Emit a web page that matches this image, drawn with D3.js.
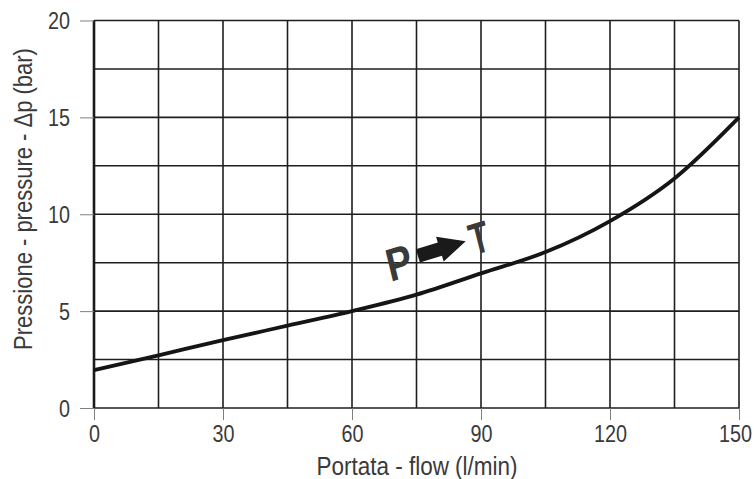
<!DOCTYPE html>
<html lang="it">
<head>
    <meta charset="UTF-8">
    <title>Pressione - portata</title>
    <script src="https://d3js.org/d3.v7.min.js"></script>
    <style>
        body { margin: 0; background: #fff; }
        text { font-family: "Liberation Sans", Arial, sans-serif; fill: #3a3a3a; }
        .grid line { stroke: #1e1e1e; stroke-width: 1.6px; }
        .tick line { stroke: #808080; }
    </style>
</head>
<body>
<script>
    // Data
    const flow = [0, 15, 30, 45, 60, 75, 90, 105, 120, 135, 150];
    const pressure = [1.95, 2.72, 3.5, 4.25, 5.0, 5.85, 6.95, 8.05, 9.65, 11.85, 15.0];
    const xTicks = [0, 30, 60, 90, 120, 150];
    const yTicks = [0, 5, 10, 15, 20];
    const xGrid = d3.range(0, 151, 15);
    const yGrid = d3.range(0, 20.1, 2.5);

    const width = 754, height = 479;
    const margin = {top: 20.5, right: 15, bottom: 71, left: 94};

    const svg = d3.select("body").append("svg")
        .attr("width", width)
        .attr("height", height);

    const x = d3.scaleLinear().domain([0, 150]).range([margin.left, width - margin.right]);
    const y = d3.scaleLinear().domain([0, 20]).range([height - margin.bottom, margin.top]);

    // Grid
    const grid = svg.append("g").attr("class", "grid");
    grid.selectAll("line.v").data(xGrid).enter().append("line")
        .attr("class", "v")
        .attr("x1", d => x(d)).attr("x2", d => x(d))
        .attr("y1", y(0)).attr("y2", y(20));
    grid.selectAll("line.h").data(yGrid).enter().append("line")
        .attr("class", "h")
        .attr("x1", x(0)).attr("x2", x(150))
        .attr("y1", d => y(d)).attr("y2", d => y(d));

    // Left frame line is heavier
    svg.append("line")
        .attr("x1", x(0)).attr("x2", x(0))
        .attr("y1", y(0)).attr("y2", y(20))
        .attr("stroke", "#1a1a1a").attr("stroke-width", 2.6);

    // Axes (labels squeezed a little, the original font is narrow)
    const xAxis = svg.append("g")
        .attr("transform", `translate(0,${y(0)})`)
        .call(d3.axisBottom(x).tickValues(xTicks).tickSize(12).tickFormat(d3.format("d")));
    xAxis.selectAll(".tick text")
        .attr("y", 0).attr("dy", 0)
        .attr("transform", d => `translate(${d === 150 ? -4 : 0},34) scale(0.86,1)`);

    const yAxis = svg.append("g")
        .attr("transform", `translate(${x(0)},0)`)
        .call(d3.axisLeft(y).tickValues(yTicks).tickSize(14).tickFormat(d3.format("d")));
    yAxis.selectAll(".tick text")
        .attr("x", 0).attr("dy", 0)
        .attr("transform", "translate(-24,8) scale(0.86,1)");

    [xAxis, yAxis].forEach(a => {
        a.select(".domain").remove();
        a.selectAll("text").style("font-size", "23px").attr("fill", "#3a3a3a");
    });

    // Curve
    const line = d3.line()
        .x((d, i) => x(flow[i]))
        .y(d => y(d))
        .curve(d3.curveMonotoneX);
    svg.append("path")
        .datum(pressure)
        .attr("fill", "none")
        .attr("stroke", "#151515")
        .attr("stroke-width", 3.8)
        .attr("d", line);

    // Axis titles
    svg.append("text")
        .attr("transform", "translate(417,475) scale(0.9,1)")
        .attr("text-anchor", "middle")
        .style("font-size", "25px")
        .text("Portata - flow (l/min)");
    svg.append("text")
        .attr("transform", "translate(32,199) rotate(-90) scale(0.88,1)")
        .attr("text-anchor", "middle")
        .style("font-size", "25px")
        .text("Pressione - pressure - \u0394p (bar)");

    // P -> T label
    const lbl = svg.append("g")
        .attr("transform", "translate(437,250) rotate(-17)");
    lbl.append("text")
        .attr("transform", "translate(-41,17) scale(0.84,1) skewX(-4)")
        .attr("text-anchor", "middle")
        .style("font-size", "46px").style("font-weight", "bold")
        .attr("fill", "#1a1a1a")
        .text("P");
    lbl.append("path")
        .attr("d", "M-20,-7 L3,-7 L3,-13 L30,0 L3,13 L3,7 L-20,7 Z")
        .attr("fill", "#1a1a1a");
    lbl.append("text")
        .attr("transform", "translate(43,16) scale(0.72,1) skewX(-4)")
        .attr("text-anchor", "middle")
        .style("font-size", "44px").style("font-weight", "bold")
        .attr("fill", "#1a1a1a")
        .text("T");
</script>
</body>
</html>
